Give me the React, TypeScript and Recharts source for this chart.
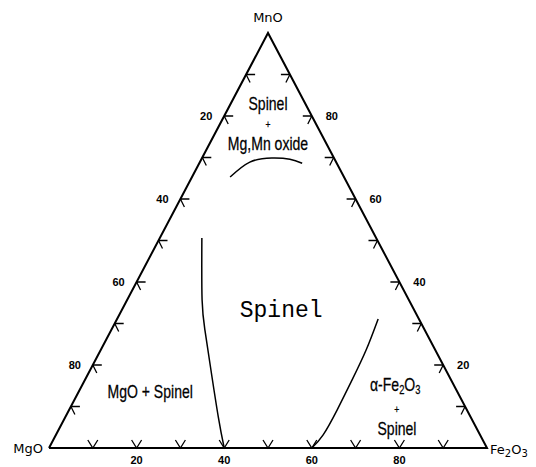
import React from 'react';
import { ComposedChart, Line, Scatter, XAxis, YAxis } from 'recharts';

const W = 536;
const H = 467;

// Compositions are given as [MnO, Fe2O3] in mol%; MgO is the remainder to 100.
const TICK_STEPS = [10, 20, 30, 40, 50, 60, 70, 80, 90];
const LABELLED_STEPS = [20, 40, 60, 80];

const CORNERS: [number, number][] = [
  [0, 0], // MgO
  [100, 0], // MnO
  [0, 100], // Fe2O3
  [0, 0],
];

const SPINEL_OXIDE_ARC: [number, number][] = [
  [65.3, 8.7],
  [68.9, 11.4],
  [69.9, 15.9],
  [69.6, 20.2],
  [68.6, 23.5],
];

const SPINEL_MGO_BOUNDARY: [number, number][] = [
  [50.6, 9.6],
  [35.7, 17.1],
  [28.4, 21.4],
  [20.0, 26.8],
  [7.5, 34.9],
  [0, 40],
];

const SPINEL_HEMATITE_BOUNDARY: [number, number][] = [
  [31.1, 59.6],
  [23.6, 60.6],
  [16.4, 61.0],
  [9.2, 61.2],
  [3.1, 61.0],
  [0, 60],
];

const CORNER_LABELS = [
  { text: 'MgO', mno: 0, fe: 0, anchor: 'end', dx: -6, dy: 5 },
  { text: 'MnO', mno: 100, fe: 0, anchor: 'middle', dx: 0, dy: -11 },
  { text: 'Fe2O3', mno: 0, fe: 100, anchor: 'start', dx: 3, dy: 6 },
];

type Region = { text: string; mno: number; fe: number; kind: 'narrow' | 'plus' | 'mono' };
const REGION_LABELS: Region[] = [
  { text: 'Spinel', mno: 81.4, fe: 9.3, kind: 'narrow' },
  { text: '+', mno: 77.2, fe: 11.4, kind: 'plus' },
  { text: 'Mg,Mn oxide', mno: 71.8, fe: 14.1, kind: 'narrow' },
  { text: 'Spinel', mno: 31.6, fe: 37.2, kind: 'mono' },
  { text: 'MgO + Spinel', mno: 12.0, fe: 17.1, kind: 'narrow' },
  { text: 'α-Fe2O3', mno: 13.7, fe: 72.2, kind: 'narrow' },
  { text: '+', mno: 8.4, fe: 75.2, kind: 'plus' },
  { text: 'Spinel', mno: 3.1, fe: 77.9, kind: 'narrow' },
];

const NARROW = "'Liberation Sans', Arial, sans-serif";
const MONO = "'Liberation Mono', 'DejaVu Sans Mono', monospace";
const SANS = "'DejaVu Sans', 'Liberation Sans', sans-serif";

// ternary composition -> cartesian plot coordinates (0..100 on both axes)
const toXY = ([mno, fe]: [number, number]) => ({ x: fe + mno / 2, y: mno });

const outline = CORNERS.map(toXY);
const arc = SPINEL_OXIDE_ARC.map(toXY);
const mgoBoundary = SPINEL_MGO_BOUNDARY.map(toXY);
const hematiteBoundary = SPINEL_HEMATITE_BOUNDARY.map(toXY);

const labelOf = (v: number) => (LABELLED_STEPS.includes(v) ? String(v) : '');

// MgO–MnO edge, labelled with MgO content
const leftTicks = TICK_STEPS.map((m) => ({ ...toXY([m, 0]), label: labelOf(100 - m) }));
// MnO–Fe2O3 edge, labelled with MnO content
const rightTicks = TICK_STEPS.map((m) => ({ ...toXY([m, 100 - m]), label: labelOf(m) }));
// MgO–Fe2O3 edge, labelled with Fe2O3 content
const bottomTicks = TICK_STEPS.map((f) => ({ ...toXY([0, f]), label: labelOf(f) }));

const cornerPoints = CORNER_LABELS.map((c) => ({ ...toXY([c.mno, c.fe]), ...c }));
const regionPoints = REGION_LABELS.map((r) => ({ ...toXY([r.mno, r.fe]), ...r }));

// digits become subscripts (chemical formulae)
const formula = (text: string, subSize: number) =>
  text
    .split(/(\d)/)
    .filter((s) => s !== '')
    .map((part, i) =>
      /\d/.test(part) ? (
        <tspan key={i} dy={3} fontSize={subSize}>
          {part}
        </tspan>
      ) : (
        <tspan key={i} dy={i === 0 ? 0 : -3}>
          {part}
        </tspan>
      )
    );

const tickLabelStyle = {
  fontFamily: "'Liberation Sans', Arial, sans-serif",
  fontSize: 11,
  fontWeight: 700 as const,
  fill: '#000',
};

const LeftTick = (props: any) => {
  const { cx, cy, payload } = props;
  return (
    <g>
      <path d={`M${cx},${cy}h9M${cx},${cy}l4,8`} stroke="#000" strokeWidth={1.3} fill="none" />
      {payload.label && (
        <text x={cx - 18} y={cy + 4} textAnchor="middle" {...tickLabelStyle}>
          {payload.label}
        </text>
      )}
    </g>
  );
};

const RightTick = (props: any) => {
  const { cx, cy, payload } = props;
  return (
    <g>
      <path d={`M${cx},${cy}h-9M${cx},${cy}l-4,8`} stroke="#000" strokeWidth={1.3} fill="none" />
      {payload.label && (
        <text x={cx + 20} y={cy + 4} textAnchor="middle" {...tickLabelStyle}>
          {payload.label}
        </text>
      )}
    </g>
  );
};

const BottomTick = (props: any) => {
  const { cx, cy, payload } = props;
  return (
    <g>
      <path
        d={`M${cx - 5},${cy - 8}L${cx},${cy}L${cx + 5},${cy - 8}`}
        stroke="#000"
        strokeWidth={1.3}
        fill="none"
      />
      {payload.label && (
        <text x={cx} y={cy + 16} textAnchor="middle" {...tickLabelStyle}>
          {payload.label}
        </text>
      )}
    </g>
  );
};

const CornerLabel = (props: any) => {
  const { cx, cy, payload } = props;
  return (
    <text
      x={cx + payload.dx}
      y={cy + payload.dy}
      textAnchor={payload.anchor}
      fontFamily={SANS}
      fontSize={13}
      fill="#000"
    >
      {formula(payload.text, 10)}
    </text>
  );
};

const RegionLabel = (props: any) => {
  const { cx, cy, payload } = props;
  if (payload.kind === 'mono') {
    return (
      <text x={cx} y={cy} textAnchor="middle" fontFamily={MONO} fontSize={23} fill="#000">
        {payload.text}
      </text>
    );
  }
  const plus = payload.kind === 'plus';
  // condensed lettering: horizontally squeezed sans
  return (
    <text
      transform={`translate(${cx},${cy}) scale(0.78,1)`}
      x={0}
      y={0}
      textAnchor="middle"
      fontFamily={NARROW}
      fontSize={plus ? 11 : 18}
      fill="#000"
      stroke="#000"
      strokeWidth={0.25}
    >
      {formula(payload.text, 12)}
    </text>
  );
};

const lineProps = {
  dataKey: 'y',
  stroke: '#000',
  dot: false,
  activeDot: false,
  isAnimationActive: false,
  legendType: 'none' as const,
};

export default function App() {
  return (
    <div style={{ position: 'absolute', left: 0, top: 0, width: W, height: H, background: '#fff' }}>
      <ComposedChart width={W} height={H} margin={{ top: 33, right: 49, bottom: 19, left: 49 }}>
        <XAxis type="number" dataKey="x" domain={[0, 100]} hide />
        <YAxis type="number" dataKey="y" domain={[0, 100]} hide />
        <Line {...lineProps} data={outline} type="linear" strokeWidth={2} strokeLinejoin="miter" />
        <Line {...lineProps} data={arc} type="natural" strokeWidth={1.5} />
        <Line {...lineProps} data={mgoBoundary} type="natural" strokeWidth={1.5} />
        <Line {...lineProps} data={hematiteBoundary} type="natural" strokeWidth={1.5} />
        <Scatter data={leftTicks} shape={LeftTick} isAnimationActive={false} />
        <Scatter data={rightTicks} shape={RightTick} isAnimationActive={false} />
        <Scatter data={bottomTicks} shape={BottomTick} isAnimationActive={false} />
        <Scatter data={cornerPoints} shape={CornerLabel} isAnimationActive={false} />
        <Scatter data={regionPoints} shape={RegionLabel} isAnimationActive={false} />
      </ComposedChart>
    </div>
  );
}
